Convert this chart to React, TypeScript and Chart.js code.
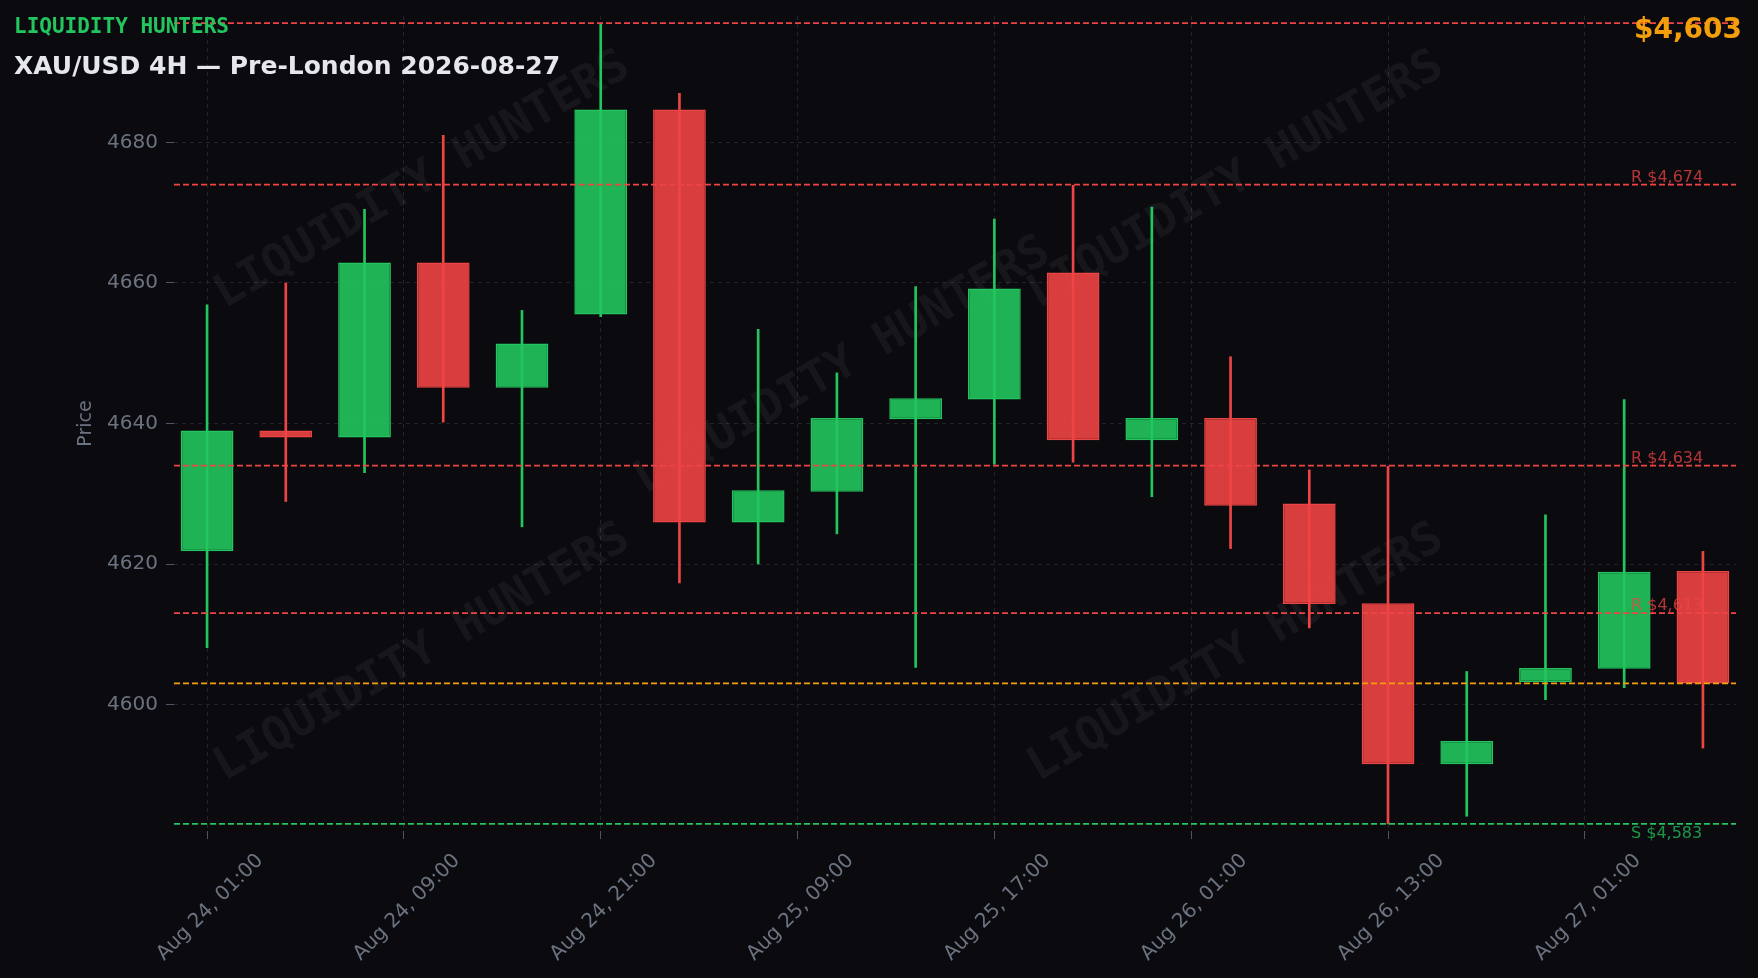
import React, { useEffect, useRef } from "react";
import { Chart, registerables } from "chart.js";

Chart.register(...registerables);

// ---- data ----
const candleIndex = [0, 1, 2, 3, 4, 5, 6, 7, 8, 9, 10, 11, 12, 13, 14, 15, 16, 17, 18, 19];
const opens = [4621.8, 4639.0, 4638.0, 4662.9, 4645.1, 4655.5, 4684.7, 4625.9, 4630.3, 4640.6, 4643.4, 4661.5, 4637.6, 4640.8, 4628.6, 4614.4, 4591.5, 4603.2, 4605.1, 4619.0];
const closes = [4639.0, 4638.0, 4662.9, 4645.1, 4651.4, 4684.7, 4625.9, 4630.5, 4640.8, 4643.6, 4659.2, 4637.6, 4640.8, 4628.3, 4614.3, 4591.5, 4594.8, 4605.2, 4618.9, 4603.0];
const highs = [4656.9, 4660.0, 4670.5, 4681.0, 4656.1, 4697.0, 4687.0, 4653.4, 4647.2, 4659.5, 4669.1, 4673.9, 4670.8, 4649.5, 4633.4, 4633.9, 4604.7, 4627.0, 4643.4, 4621.8];
const lows = [4608.1, 4628.9, 4633.0, 4640.2, 4625.3, 4655.2, 4617.3, 4620.0, 4624.3, 4605.3, 4634.2, 4634.5, 4629.6, 4622.2, 4610.9, 4583.0, 4584.1, 4600.7, 4602.4, 4593.8];

const xTickValues = [0, 2.5, 5, 7.5, 10, 12.5, 15, 17.5];
const xTickLabels = [
  "Aug 24, 01:00",
  "Aug 24, 09:00",
  "Aug 24, 21:00",
  "Aug 25, 09:00",
  "Aug 25, 17:00",
  "Aug 26, 01:00",
  "Aug 26, 13:00",
  "Aug 27, 01:00",
];
const yTickValues = [4600, 4620, 4640, 4660, 4680];

const resistanceLevels = [4697, 4674, 4634, 4613];
const supportLevels = [4583];
const currentPrice = 4603;

const brandText = "LIQUIDITY HUNTERS";
const titleText = "XAU/USD 4H — Pre-London 2026-08-27";

// ---- styles ----
const BG = "#0b0b0f";
const UP = "#22c55e";
const DOWN = "#ef4444";
const UP_FILL = "rgba(34,197,94,0.9)";
const DOWN_FILL = "rgba(239,68,68,0.9)";
const ORANGE = "#f59e0b";
const GRID = "#23232b";
const TICK = "#4b5563";
const TEXT = "#6b7280";
const SANS = '"DejaVu Sans", sans-serif';
const MONO = '"DejaVu Sans Mono", monospace';

const WATERMARK_SPOTS = [
  [0.159, 0.202],
  [0.428, 0.43],
  [0.68, 0.202],
  [0.159, 0.782],
  [0.68, 0.782],
];

const fmt = (v: number) => "$" + v.toLocaleString("en-US");

const overlayPlugin = {
  id: "overlayPlugin",
  beforeDatasetsDraw(chart: any) {
    const { ctx, chartArea: a } = chart;
    ctx.save();
    ctx.font = `bold 46px ${MONO}`;
    ctx.fillStyle = "rgba(255,255,255,0.05)";
    ctx.textAlign = "center";
    ctx.textBaseline = "middle";
    for (const [fx, fy] of WATERMARK_SPOTS) {
      ctx.save();
      ctx.translate(a.left + fx * (a.right - a.left), a.top + fy * (a.bottom - a.top));
      ctx.rotate(-Math.PI / 6);
      ctx.fillText(brandText, 0, 0);
      ctx.restore();
    }
    ctx.restore();
  },
  afterDatasetsDraw(chart: any) {
    const { ctx, chartArea: a, scales } = chart;
    const ys = scales.y;
    const line = (v: number, color: string) => {
      const y = ys.getPixelForValue(v);
      ctx.save();
      ctx.beginPath();
      ctx.rect(a.left, a.top, a.right - a.left, a.bottom - a.top);
      ctx.clip();
      ctx.strokeStyle = color;
      ctx.lineWidth = 1.8;
      ctx.setLineDash([6, 3]);
      ctx.beginPath();
      ctx.moveTo(a.left, y);
      ctx.lineTo(a.right, y);
      ctx.stroke();
      ctx.restore();
      return y;
    };
    ctx.save();
    ctx.font = `16px ${SANS}`;
    ctx.textAlign = "left";
    ctx.textBaseline = "alphabetic";
    const lx = a.right - 105;
    for (const v of resistanceLevels) {
      const y = line(v, DOWN);
      if (y - 16 > a.top) {
        ctx.fillStyle = "rgba(239,68,68,0.75)";
        ctx.fillText("R " + fmt(v), lx, y - 3);
      }
    }
    for (const v of supportLevels) {
      const y = line(v, UP);
      ctx.fillStyle = "rgba(34,197,94,0.75)";
      ctx.fillText("S " + fmt(v), lx, y + 14);
    }
    line(currentPrice, ORANGE);
    ctx.restore();
  },
};

export default function App() {
  const canvasRef = useRef<HTMLCanvasElement | null>(null);

  useEffect(() => {
    document.body.style.margin = "0";
    document.body.style.background = BG;
    const canvas = canvasRef.current;
    if (!canvas) return;

    const isUp = candleIndex.map((_, i) => closes[i] >= opens[i]);

    const chart = new Chart(canvas, {
      type: "bar",
      data: {
        datasets: [
          {
            label: "body",
            data: candleIndex.map((x, i) => ({ x, y: [opens[i], closes[i]] })) as any,
            backgroundColor: isUp.map((u) => (u ? UP_FILL : DOWN_FILL)),
            borderColor: isUp.map((u) => (u ? UP : DOWN)),
            borderWidth: 1.5,
            borderSkipped: false,
            grouped: false,
            categoryPercentage: 1,
            barPercentage: 0.67,
            order: 0,
          } as any,
          {
            label: "wick",
            data: candleIndex.map((x, i) => ({ x, y: [lows[i], highs[i]] })) as any,
            backgroundColor: isUp.map((u) => (u ? UP : DOWN)),
            borderWidth: 0,
            grouped: false,
            categoryPercentage: 1,
            barPercentage: 1,
            maxBarThickness: 2,
            order: 1,
          } as any,
        ],
      },
      options: {
        animation: false,
        responsive: false,
        maintainAspectRatio: false,
        layout: { padding: { top: 16, right: 22, left: 0, bottom: 0 } },
        plugins: {
          legend: { display: false },
          tooltip: { enabled: false },
        },
        scales: {
          x: {
            type: "linear",
            min: -0.42,
            max: 19.42,
            offset: false,
            afterBuildTicks: (s: any) => {
              s.ticks = xTickValues.map((v) => ({ value: v }));
            },
            afterFit: (s: any) => {
              s.height = 147;
              s.paddingLeft = 0;
              s.paddingRight = 0;
            },
            ticks: {
              autoSkip: false,
              minRotation: 45,
              maxRotation: 45,
              labelOffset: 53,
              padding: 10,
              color: TEXT,
              font: { family: SANS, size: 20 },
              callback: (_v: any, i: number) => xTickLabels[i] ?? "",
            },
            grid: { color: GRID, tickColor: TICK, tickLength: 8, offset: false },
            border: { display: false, dash: [4, 4] },
          } as any,
          y: {
            type: "linear",
            min: 4582,
            max: 4698,
            afterBuildTicks: (s: any) => {
              s.ticks = yTickValues.map((v) => ({ value: v }));
            },
            afterFit: (s: any) => {
              s.width = 174;
              s.paddingTop = 0;
              s.paddingBottom = 0;
            },
            ticks: {
              padding: 8,
              color: TEXT,
              font: { family: SANS, size: 20 },
              callback: (v: any) => String(v),
            },
            grid: { color: GRID, tickColor: TICK, tickLength: 8 },
            border: { display: false, dash: [4, 4] },
            title: {
              display: true,
              text: "Price",
              color: TEXT,
              font: { family: SANS, size: 19 },
              padding: { top: 75, bottom: 0 },
            },
          } as any,
        },
      },
      plugins: [overlayPlugin],
    });
    return () => chart.destroy();
  }, []);

  return (
    <div style={{ position: "relative", width: 1758, height: 978, background: BG, overflow: "hidden" }}>
      <canvas ref={canvasRef} width={1758} height={978} style={{ display: "block", width: 1758, height: 978 }} />
      <div
        style={{
          position: "absolute",
          left: 14,
          top: 14,
          font: `bold 21px ${MONO}`,
          color: UP,
          lineHeight: "normal",
          whiteSpace: "nowrap",
        }}
      >
        {brandText}
      </div>
      <div
        style={{
          position: "absolute",
          left: 14,
          top: 51,
          font: `bold 25px ${SANS}`,
          color: "#e5e7eb",
          lineHeight: "normal",
          whiteSpace: "nowrap",
        }}
      >
        {titleText}
      </div>
      <div
        style={{
          position: "absolute",
          right: 16,
          top: 12,
          font: `bold 28px ${SANS}`,
          color: ORANGE,
          lineHeight: "normal",
          whiteSpace: "nowrap",
        }}
      >
        {fmt(currentPrice)}
      </div>
    </div>
  );
}
